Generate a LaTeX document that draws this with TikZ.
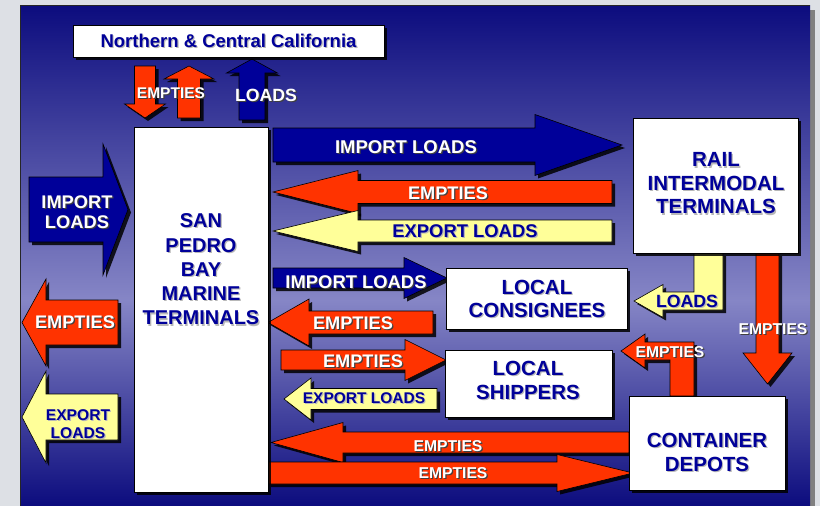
\documentclass[tikz,border=0pt]{standalone}
\usepackage{fontspec}
\setmainfont{Liberation Sans}
\usetikzlibrary{shadows}

\definecolor{navy}{RGB}{0,0,153}
\definecolor{redorange}{RGB}{255,51,0}
\definecolor{paleyellow}{RGB}{255,255,153}
\definecolor{pandark}{RGB}{12,12,126}
\definecolor{panlight}{RGB}{134,134,198}
\definecolor{pagegrey}{RGB}{221,224,229}

\tikzset{
  shadowed/.style={drop shadow={shadow xshift=3pt, shadow yshift=-3pt, fill=black, opacity=0.85}},
  site/.style={rectangle, draw=black, line width=0.8pt, fill=white, inner sep=0pt,
               outer sep=0pt, shadowed},
  flow/.style={draw=black, line width=0.6pt, line join=miter, shadowed},
  loads/.style={flow, fill=navy},
  empties/.style={flow, fill=redorange},
  exports/.style={flow, fill=paleyellow},
  lbl/.style={align=center, inner sep=0pt, outer sep=0pt},
  wtxt/.style={text=white},
  wtxt shadow/.style={text=black!75},
  ntxt/.style={text=navy},
  ntxt shadow/.style={text=black!28}
}

% horizontal block arrow: style, tail x, head base x, tip x, axis y, shaft half, head half
\newcommand\harrow[7]{%
  \draw[#1] (#2,#5-#6) -- (#3,#5-#6) -- (#3,#5-#7) -- (#4,#5) -- (#3,#5+#7)
    -- (#3,#5+#6) -- (#2,#5+#6) -- cycle;}
% vertical block arrow: style, tail y, head base y, tip y, axis x, shaft half, head half
\newcommand\varrow[7]{%
  \draw[#1] (#5-#6,#2) -- (#5-#6,#3) -- (#5-#7,#3) -- (#5,#4) -- (#5+#7,#3)
    -- (#5+#6,#3) -- (#5+#6,#2) -- cycle;}
% text with a soft shadow: name, position, size, skip, colour style, text
\newcommand\flowtext[6]{%
  \node[lbl, #5 shadow, xshift=1.2pt, yshift=-1.2pt,
        font=\bfseries\fontsize{#3}{#4}\selectfont] (#1s) at #2 {#6};
  \node[lbl, #5, font=\bfseries\fontsize{#3}{#4}\selectfont] (#1) at #2 {#6};}

\begin{document}
\begin{tikzpicture}[x=1pt, y=-1pt]
  \useasboundingbox (0,0) rectangle (820,506);
  \fill[pagegrey] (0,0) rectangle (820,506);

  % slide panel
  \fill[black!50] (810,10) rectangle (815,506);
  \shade[top color=pandark, bottom color=panlight] (20,5) rectangle (810,300.5);
  \shade[top color=panlight, bottom color=pandark] (20,300) rectangle (810,506);
  \draw[black!85, line width=0.8pt] (20,506) -- (20,5) -- (810,5);

  % to and from the north
  \varrow{empties}{66}{104}{118}{145}{10.5}{20.5}
  \varrow{empties}{118}{79}{66}{189}{11.5}{25}
  \varrow{loads}{120}{73}{59}{252}{13}{25.5}

  % ocean side
  \harrow{loads}{29}{103}{128}{209.5}{32.5}{65.5}
  \harrow{empties}{118}{46}{22}{322.5}{22.5}{43.5}
  \harrow{exports}{118}{46}{22}{417}{23}{46}

  % rail
  \harrow{loads}{273}{535}{622}{145}{17}{30.5}
  \harrow{empties}{612}{358}{273}{192}{11.5}{21.5}
  \harrow{exports}{612}{358}{273}{231}{11}{20.5}

  % local customers
  \harrow{loads}{273}{404}{447}{278}{10}{20.5}
  \harrow{empties}{433}{309}{268}{322.5}{11.5}{23.5}
  \harrow{empties}{281}{405}{446}{360}{10}{20.5}
  \harrow{exports}{437}{311}{284}{399}{10.5}{21}

  % container depots
  \harrow{empties}{629}{343}{271}{442.5}{10.5}{20}
  \harrow{empties}{268}{557}{633}{473}{11}{18.5}
  \varrow{empties}{253}{353}{384}{767.5}{11.5}{24.5}
  \draw[exports] (694,253) -- (723,253) -- (723,310) -- (663,310) -- (663,317.5)
    -- (634,301) -- (663,284.5) -- (663,292) -- (694,292) -- cycle;
  \draw[empties] (670,396) -- (694,396) -- (694,342) -- (645,342) -- (645,334)
    -- (621,351) -- (645,368) -- (645,360) -- (670,360) -- cycle;

  % places
  \node[site, minimum width=311pt, minimum height=32pt] (ncal) at (228.5,41) {};
  \node[site, minimum width=134pt, minimum height=365pt] (sanpedro) at (201,309.5) {};
  \node[site, minimum width=165pt, minimum height=135pt] (rail) at (715.5,185.5) {};
  \node[site, minimum width=181pt, minimum height=61pt] (consig) at (536.5,298.5) {};
  \node[site, minimum width=167pt, minimum height=67pt] (shippers) at (528.5,383.5) {};
  \node[site, minimum width=156pt, minimum height=94pt] (depots) at (707,443) {};

  \flowtext{ncalt}{(228.5,41)}{18.5}{22}{ntxt}{Northern \& Central California}
  \flowtext{sanpedrot}{(201,269.5)}{20}{24.3}{ntxt}{SAN\\PEDRO\\BAY\\MARINE\\TERMINALS}
  \flowtext{railt}{(716,183.5)}{20.5}{23.5}{ntxt}{RAIL\\INTERMODAL\\TERMINALS}
  \flowtext{consigt}{(537,298.5)}{20.5}{23}{ntxt}{LOCAL\\CONSIGNEES}
  \flowtext{shipperst}{(528,380)}{20.5}{24}{ntxt}{LOCAL\\SHIPPERS}
  \flowtext{depotst}{(707,452)}{20.5}{24}{ntxt}{CONTAINER\\DEPOTS}

  % arrow labels
  \flowtext{northe}{(171,93)}{15.5}{18}{wtxt}{EMPTIES}
  \flowtext{northl}{(266,95)}{17.7}{20}{wtxt}{LOADS}
  \flowtext{oceani}{(77,212)}{18.3}{20}{wtxt}{IMPORT\\LOADS}
  \flowtext{oceane}{(75,322)}{18.2}{20}{wtxt}{EMPTIES}
  \flowtext{oceanx}{(78,424)}{15.6}{18}{ntxt}{EXPORT\\LOADS}
  \flowtext{raili}{(406,147)}{18.5}{20}{wtxt}{IMPORT LOADS}
  \flowtext{raile}{(448,193)}{18.2}{20}{wtxt}{EMPTIES}
  \flowtext{railx}{(465,231)}{18.4}{20}{ntxt}{EXPORT LOADS}
  \flowtext{locali}{(356,282)}{18.4}{20}{wtxt}{IMPORT LOADS}
  \flowtext{locale}{(353,323)}{18.2}{20}{wtxt}{EMPTIES}
  \flowtext{shipe}{(363,361)}{18.2}{20}{wtxt}{EMPTIES}
  \flowtext{shipx}{(364,398)}{15.5}{18}{ntxt}{EXPORT LOADS}
  \flowtext{depotin}{(448,446)}{15.7}{18}{wtxt}{EMPTIES}
  \flowtext{depotout}{(453,473)}{15.7}{18}{wtxt}{EMPTIES}
  \flowtext{raill}{(687,301)}{17.7}{20}{ntxt}{LOADS}
  \flowtext{raildown}{(773,329)}{15.7}{18}{wtxt}{EMPTIES}
  \flowtext{depotup}{(670,352)}{15.7}{18}{wtxt}{EMPTIES}
\end{tikzpicture}
\end{document}
